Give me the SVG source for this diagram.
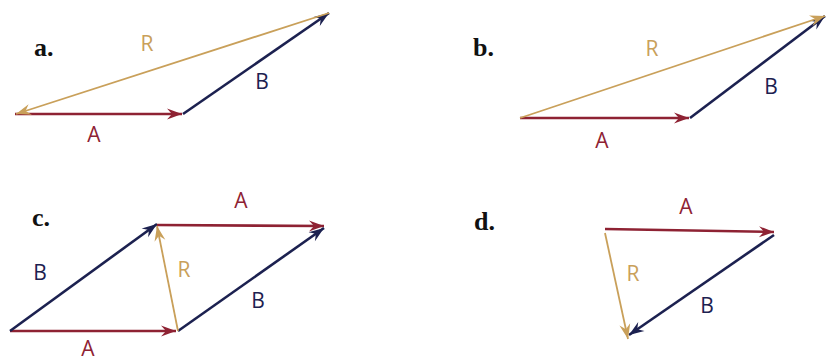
<svg xmlns="http://www.w3.org/2000/svg" width="828" height="364" viewBox="0 0 828 364">
<style>
.a{stroke:#8e2233;stroke-width:2.6;fill:none;marker-end:url(#ma)}
.b{stroke:#1c2150;stroke-width:2.6;fill:none;marker-end:url(#mb)}
.r{stroke:#c9a05a;stroke-width:1.8;fill:none;marker-end:url(#mr)}
.lbl{font-family:"Open Sans","Liberation Sans",sans-serif;font-size:21px;text-anchor:middle}
.ta{fill:#8e2233}.tb{fill:#1c2150}.tr{fill:#c9a05a}
.hd{font-family:"Liberation Serif",serif;font-weight:bold;font-size:26px;fill:#111}
</style>
<defs>
<marker id="ma" markerUnits="userSpaceOnUse" markerWidth="20" markerHeight="14" viewBox="-16 -7 20 14" refX="0" refY="0" orient="auto"><path d="M-15,-5.5 L0,0 L-15,5.5 L-10,0 z" fill="#8e2233"/></marker>
<marker id="mb" markerUnits="userSpaceOnUse" markerWidth="20" markerHeight="14" viewBox="-16 -7 20 14" refX="0" refY="0" orient="auto"><path d="M-15,-5.5 L0,0 L-15,5.5 L-10,0 z" fill="#1c2150"/></marker>
<marker id="mr" markerUnits="userSpaceOnUse" markerWidth="20" markerHeight="14" viewBox="-16 -7 20 14" refX="0" refY="0" orient="auto"><path d="M-15,-5.5 L0,0 L-15,5.5 L-10,0 z" fill="#c9a05a"/></marker>
</defs>
<rect width="828" height="364" fill="#fff"/>
<g id="connectors">
<line class="a" x1="15" y1="114" x2="182" y2="114"/>
<line class="b" x1="183" y1="114" x2="329" y2="13"/>
<line class="r" x1="329" y1="13" x2="16" y2="114"/>
<line class="a" x1="520" y1="118" x2="689" y2="118"/>
<line class="b" x1="690" y1="118" x2="825" y2="16"/>
<line class="r" x1="520" y1="118" x2="825" y2="16"/>
<line class="a" x1="10" y1="331" x2="176" y2="331"/>
<line class="b" x1="10" y1="331" x2="157" y2="224"/>
<line class="a" x1="157" y1="225" x2="324" y2="226"/>
<line class="b" x1="178" y1="331" x2="324" y2="228"/>
<line class="r" x1="178" y1="331" x2="157" y2="226"/>
<line class="a" x1="605" y1="229" x2="774" y2="232"/>
<line class="b" x1="774" y1="235" x2="629" y2="335"/>
<line class="r" x1="605" y1="233" x2="628" y2="339"/>
</g>
<g id="a">
<text class="hd" x="34" y="56">a.</text>
<text class="lbl tr" x="147" y="51">R</text>
<text class="lbl tb" x="262" y="89">B</text>
<text class="lbl ta" x="94" y="142">A</text>
</g>
<g id="b">
<text class="hd" x="473" y="56">b.</text>
<text class="lbl tr" x="652" y="56">R</text>
<text class="lbl tb" x="771" y="94">B</text>
<text class="lbl ta" x="602" y="148">A</text>
</g>
<g id="c">
<text class="hd" x="32" y="226">c.</text>
<text class="lbl ta" x="241" y="208">A</text>
<text class="lbl tb" x="40" y="280">B</text>
<text class="lbl tr" x="184" y="277">R</text>
<text class="lbl tb" x="258" y="308">B</text>
<text class="lbl ta" x="88" y="356">A</text>
</g>
<g id="d">
<text class="hd" x="474" y="230">d.</text>
<text class="lbl ta" x="686" y="214">A</text>
<text class="lbl tr" x="633" y="281">R</text>
<text class="lbl tb" x="707" y="313">B</text>
</g>
</svg>
